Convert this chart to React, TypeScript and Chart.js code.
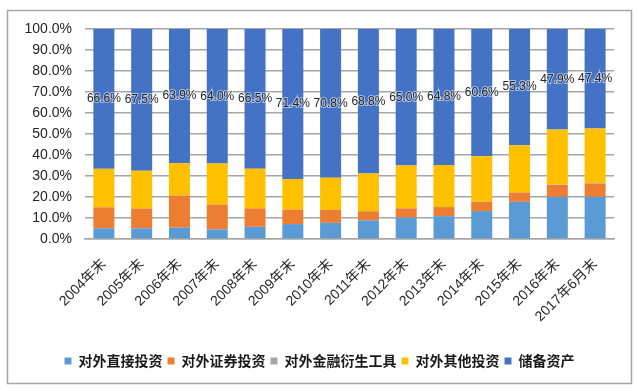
import React, { useEffect, useRef } from 'react';
import { Chart, registerables } from 'chart.js';

Chart.register(...registerables);

const categories = [
  '2004年末', '2005年末', '2006年末', '2007年末', '2008年末', '2009年末', '2010年末',
  '2011年末', '2012年末', '2013年末', '2014年末', '2015年末', '2016年末', '2017年6月末',
];
const seriesNames = ['对外直接投资', '对外证券投资', '对外金融衍生工具', '对外其他投资', '储备资产'];
const fdi = [5.1, 5.1, 5.4, 4.6, 5.8, 7.1, 7.7, 8.9, 10.2, 10.9, 13.3, 17.7, 20.1, 20.1];
const portfolio = [10.0, 9.4, 15.3, 11.8, 8.8, 6.9, 6.2, 4.3, 4.4, 4.3, 4.4, 4.4, 5.7, 6.2];
const derivatives = [0, 0, 0, 0, 0, 0, 0, 0, 0, 0, 0, 0.1, 0.1, 0.3];
const otherInv = [18.3, 18.0, 15.4, 19.6, 18.9, 14.6, 15.3, 18.0, 20.4, 20.0, 21.7, 22.5, 26.2, 26.0];
const reserves = [66.6, 67.5, 63.9, 64.0, 66.5, 71.4, 70.8, 68.8, 65.0, 64.8, 60.6, 55.3, 47.9, 47.4];
const yMax = 100;
const yStep = 10;

const colors = ['#5B9BD5', '#ED7D31', '#A5A5A5', '#FFC000', '#4472C4'];

const framePlugin = {
  id: 'frame',
  beforeDraw(chart: any) {
    const { ctx, width, height } = chart;
    ctx.save();
    ctx.fillStyle = '#ffffff';
    ctx.fillRect(0, 0, width, height);
    ctx.strokeStyle = '#A6A6A6';
    ctx.lineWidth = 1.5;
    ctx.strokeRect(7.5, 10.5, 624, 373);
    ctx.restore();
  },
};

const labelPlugin = {
  id: 'reserveLabels',
  afterDatasetsDraw(chart: any) {
    const { ctx } = chart;
    const meta = chart.getDatasetMeta(4);
    ctx.save();
    ctx.font = '12px "Liberation Sans", Arial, sans-serif';
    ctx.textAlign = 'center';
    ctx.textBaseline = 'middle';
    meta.data.forEach((el: any, i: number) => {
      const { x, y, base } = el.getProps(['x', 'y', 'base'], true);
      const cy = (y + base) / 2;
      const text = reserves[i].toFixed(1) + '%';
      ctx.lineWidth = 2;
      ctx.strokeStyle = 'rgba(255,255,255,0.55)';
      ctx.strokeText(text, x, cy);
      ctx.fillStyle = '#262626';
      ctx.fillText(text, x, cy);
    });
    ctx.restore();
  },
};

export default function App() {
  const ref = useRef<HTMLCanvasElement | null>(null);

  useEffect(() => {
    document.body.style.margin = '0';
    if (!ref.current) return;
    const seriesData = [fdi, portfolio, derivatives, otherInv, reserves];
    const chart = new Chart(ref.current, {
      type: 'bar',
      data: {
        labels: categories,
        datasets: seriesNames.map((name, i) => ({
          label: name,
          data: seriesData[i],
          backgroundColor: colors[i],
          borderWidth: 0,
          barPercentage: 0.556,
          categoryPercentage: 1,
        })),
      },
      options: {
        responsive: false,
        animation: false,
        layout: { padding: { left: 8, right: 8, top: 29, bottom: 13 } },
        plugins: {
          tooltip: { enabled: false },
          legend: {
            position: 'bottom',
            labels: {
              boxWidth: 7,
              boxHeight: 7,
              padding: 5,
              color: '#1a1a1a',
              font: { family: '"Noto Sans CJK SC", sans-serif', size: 14, weight: 'bold' },
            },
          },
        },
        scales: {
          x: {
            stacked: true,
            grid: { display: false },
            border: { display: true, color: '#A6A6A6', width: 1.5 },
            ticks: {
              minRotation: 45,
              maxRotation: 45,
              autoSkip: false,
              color: '#262626',
              padding: 9,
              font: { family: '"Liberation Sans", "Noto Sans CJK SC", sans-serif', size: 14 },
            },
            afterFit: (s: any) => { s.height = 110; },
          },
          y: {
            stacked: true,
            min: 0,
            max: yMax,
            grid: { color: '#A6A6A6', lineWidth: 1.5, drawTicks: false },
            border: { display: false },
            ticks: {
              stepSize: yStep,
              padding: 13,
              color: '#262626',
              font: { family: '"Liberation Sans", Arial, sans-serif', size: 14 },
              callback: (v: any) => Number(v).toFixed(1) + '%',
            },
            afterFit: (s: any) => { s.width = 77; },
          },
          y2: {
            position: 'right',
            display: true,
            grid: { display: false },
            border: { display: false },
            ticks: { display: false },
            afterFit: (s: any) => { s.width = 17; },
          },
        },
      },
      plugins: [framePlugin, labelPlugin],
    } as any);
    return () => chart.destroy();
  }, []);

  return (
    <div style={{ width: 639, height: 391 }}>
      <canvas ref={ref} width={639} height={391} style={{ width: 639, height: 391, display: 'block' }} />
    </div>
  );
}
